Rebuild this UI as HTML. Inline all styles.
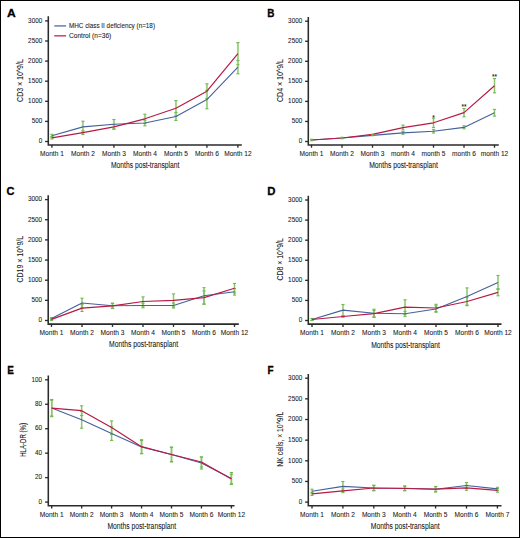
<!DOCTYPE html>
<html><head><meta charset="utf-8"><style>
html,body{margin:0;padding:0;background:#fff;}
body{width:520px;height:538px;overflow:hidden;}
svg{display:block;}
text{font-family:"Liberation Sans", sans-serif;fill:#202020;stroke:#202020;stroke-width:0.07px;}
.lt{font-size:11.6px;font-weight:bold;fill:#000;stroke:#000;stroke-width:0.3px;}
.yl{font-size:6.9px;text-anchor:end;}
.ml{font-size:6.6px;text-anchor:middle;}
.xt{font-size:8.3px;text-anchor:middle;}
.yt{font-size:8.5px;text-anchor:middle;}
.lg{font-size:6.5px;}
.as{font-size:6.5px;text-anchor:middle;fill:#111;}
.ax{fill:none;stroke:#2b2b2b;stroke-width:1.55;}
.tk{stroke:#2b2b2b;stroke-width:1.35;}
.bl{fill:none;stroke:#44619c;stroke-width:1.1;stroke-linejoin:round;}
.rl{fill:none;stroke:#b71a44;stroke-width:1.2;stroke-linejoin:round;}
.eb{}
.ec{stroke:#70b952;stroke-width:1.1;}
</style></head><body>
<svg width="520" height="538" viewBox="0 0 520 538">
<rect x="0.5" y="0.5" width="519" height="537" fill="#fff" stroke="#000" stroke-width="1"/>
<text transform="translate(6.9 16.5) scale(1.04 1)" class="lt">A</text>
<g>
<line x1="51.9" y1="134.3" x2="51.9" y2="137.1" class="eb" stroke-width="2.0" stroke="#a3d189"/>
<line x1="51.9" y1="136.7" x2="51.9" y2="138.9" class="eb" stroke-width="2.0" stroke="#a3d189"/>
<line x1="82.9" y1="121.2" x2="82.9" y2="132.6" class="eb" stroke-width="2.0" stroke="#a3d189"/>
<line x1="82.9" y1="130.9" x2="82.9" y2="134.5" class="eb" stroke-width="2.0" stroke="#a3d189"/>
<line x1="113.9" y1="119.5" x2="113.9" y2="128.9" class="eb" stroke-width="2.0" stroke="#a3d189"/>
<line x1="113.9" y1="124.6" x2="113.9" y2="129.2" class="eb" stroke-width="2.0" stroke="#a3d189"/>
<line x1="144.9" y1="114.2" x2="144.9" y2="123.4" class="eb" stroke-width="2.0" stroke="#a3d189"/>
<line x1="144.9" y1="120.2" x2="144.9" y2="125.8" class="eb" stroke-width="2.0" stroke="#a3d189"/>
<line x1="175.9" y1="100.6" x2="175.9" y2="116" class="eb" stroke-width="2.0" stroke="#a3d189"/>
<line x1="175.9" y1="112.6" x2="175.9" y2="120.4" class="eb" stroke-width="2.0" stroke="#a3d189"/>
<line x1="206.9" y1="83.8" x2="206.9" y2="98.6" class="eb" stroke-width="2.0" stroke="#a3d189"/>
<line x1="206.9" y1="90.4" x2="206.9" y2="108.8" class="eb" stroke-width="2.0" stroke="#a3d189"/>
<line x1="237.9" y1="42.6" x2="237.9" y2="64.8" class="eb" stroke-width="2.0" stroke="#a3d189"/>
<line x1="237.9" y1="60.4" x2="237.9" y2="73.8" class="eb" stroke-width="2.0" stroke="#a3d189"/>
<line x1="50.3" y1="134.3" x2="53.5" y2="134.3" class="ec"/>
<line x1="50.3" y1="137.1" x2="53.5" y2="137.1" class="ec"/>
<line x1="50.3" y1="136.7" x2="53.5" y2="136.7" class="ec"/>
<line x1="50.3" y1="138.9" x2="53.5" y2="138.9" class="ec"/>
<line x1="81.3" y1="121.2" x2="84.5" y2="121.2" class="ec"/>
<line x1="81.3" y1="132.6" x2="84.5" y2="132.6" class="ec"/>
<line x1="81.3" y1="130.9" x2="84.5" y2="130.9" class="ec"/>
<line x1="81.3" y1="134.5" x2="84.5" y2="134.5" class="ec"/>
<line x1="112.3" y1="119.5" x2="115.5" y2="119.5" class="ec"/>
<line x1="112.3" y1="128.9" x2="115.5" y2="128.9" class="ec"/>
<line x1="112.3" y1="124.6" x2="115.5" y2="124.6" class="ec"/>
<line x1="112.3" y1="129.2" x2="115.5" y2="129.2" class="ec"/>
<line x1="143.3" y1="114.2" x2="146.5" y2="114.2" class="ec"/>
<line x1="143.3" y1="123.4" x2="146.5" y2="123.4" class="ec"/>
<line x1="143.3" y1="120.2" x2="146.5" y2="120.2" class="ec"/>
<line x1="143.3" y1="125.8" x2="146.5" y2="125.8" class="ec"/>
<line x1="174.3" y1="100.6" x2="177.5" y2="100.6" class="ec"/>
<line x1="174.3" y1="116" x2="177.5" y2="116" class="ec"/>
<line x1="174.3" y1="112.6" x2="177.5" y2="112.6" class="ec"/>
<line x1="174.3" y1="120.4" x2="177.5" y2="120.4" class="ec"/>
<line x1="205.3" y1="83.8" x2="208.5" y2="83.8" class="ec"/>
<line x1="205.3" y1="98.6" x2="208.5" y2="98.6" class="ec"/>
<line x1="205.3" y1="90.4" x2="208.5" y2="90.4" class="ec"/>
<line x1="205.3" y1="108.8" x2="208.5" y2="108.8" class="ec"/>
<line x1="236.3" y1="42.6" x2="239.5" y2="42.6" class="ec"/>
<line x1="236.3" y1="64.8" x2="239.5" y2="64.8" class="ec"/>
<line x1="236.3" y1="60.4" x2="239.5" y2="60.4" class="ec"/>
<line x1="236.3" y1="73.8" x2="239.5" y2="73.8" class="ec"/>
<polyline points="51.9,135.7 82.9,126.9 113.9,124.2 144.9,123 175.9,116.5 206.9,99.6 237.9,67.1" class="bl"/>
<polyline points="51.9,137.8 82.9,132.7 113.9,126.9 144.9,118.8 175.9,108.3 206.9,91.2 237.9,53.7" class="rl"/>
</g>
<path d="M48.3 16.3V145H241.8" class="ax"/>
<line x1="45.1" y1="141.5" x2="48.3" y2="141.5" class="tk"/>
<text x="42.2" y="143.25" class="yl" textLength="3.52" lengthAdjust="spacingAndGlyphs">0</text>
<line x1="45.1" y1="121.4" x2="48.3" y2="121.4" class="tk"/>
<text x="42.2" y="123.15" class="yl" textLength="10.56" lengthAdjust="spacingAndGlyphs">500</text>
<line x1="45.1" y1="101.3" x2="48.3" y2="101.3" class="tk"/>
<text x="42.2" y="103.05" class="yl" textLength="14.08" lengthAdjust="spacingAndGlyphs">1000</text>
<line x1="45.1" y1="81.2" x2="48.3" y2="81.2" class="tk"/>
<text x="42.2" y="82.95" class="yl" textLength="14.08" lengthAdjust="spacingAndGlyphs">1500</text>
<line x1="45.1" y1="61.1" x2="48.3" y2="61.1" class="tk"/>
<text x="42.2" y="62.85" class="yl" textLength="14.08" lengthAdjust="spacingAndGlyphs">2000</text>
<line x1="45.1" y1="41" x2="48.3" y2="41" class="tk"/>
<text x="42.2" y="42.75" class="yl" textLength="14.08" lengthAdjust="spacingAndGlyphs">2500</text>
<line x1="45.1" y1="20.9" x2="48.3" y2="20.9" class="tk"/>
<text x="42.2" y="22.65" class="yl" textLength="14.08" lengthAdjust="spacingAndGlyphs">3000</text>
<line x1="51.9" y1="145" x2="51.9" y2="147.8" class="tk"/>
<text x="51.9" y="156.4" class="ml">Month 1</text>
<line x1="82.9" y1="145" x2="82.9" y2="147.8" class="tk"/>
<text x="82.9" y="156.4" class="ml">Month 2</text>
<line x1="113.9" y1="145" x2="113.9" y2="147.8" class="tk"/>
<text x="113.9" y="156.4" class="ml">Month 3</text>
<line x1="144.9" y1="145" x2="144.9" y2="147.8" class="tk"/>
<text x="144.9" y="156.4" class="ml">Month 4</text>
<line x1="175.9" y1="145" x2="175.9" y2="147.8" class="tk"/>
<text x="175.9" y="156.4" class="ml">Month 5</text>
<line x1="206.9" y1="145" x2="206.9" y2="147.8" class="tk"/>
<text x="206.9" y="156.4" class="ml">Month 6</text>
<line x1="237.9" y1="145" x2="237.9" y2="147.8" class="tk"/>
<text x="237.9" y="156.4" class="ml">Month 12</text>
<text x="145.2" y="168.3" class="xt" textLength="68.4" lengthAdjust="spacingAndGlyphs">Months post-transplant</text>
<text transform="translate(22.7 80.55) rotate(-90)" class="yt" textLength="42.7" lengthAdjust="spacingAndGlyphs">CD3 × 10^9/L</text>
<line x1="54.3" y1="25.9" x2="66.1" y2="25.9" stroke="#6f86b6" stroke-width="1.6"/>
<line x1="54.3" y1="35.8" x2="66.1" y2="35.8" stroke="#c9506b" stroke-width="1.6"/>
<text x="69" y="27.9" class="lg" textLength="86" lengthAdjust="spacingAndGlyphs">MHC class II deficiency (n=18)</text>
<text x="69" y="37.6" class="lg" textLength="42.3" lengthAdjust="spacingAndGlyphs">Control (n=36)</text>
<text transform="translate(267.2 16.5) scale(0.86 1)" class="lt">B</text>
<g>
<line x1="403" y1="125.1" x2="403" y2="129.9" class="eb" stroke-width="1.5" stroke="#8cc56c"/>
<line x1="403" y1="131.6" x2="403" y2="134.2" class="eb" stroke-width="1.5" stroke="#8cc56c"/>
<line x1="433.5" y1="118.2" x2="433.5" y2="127.6" class="eb" stroke-width="1.5" stroke="#8cc56c"/>
<line x1="433.5" y1="129.6" x2="433.5" y2="133" class="eb" stroke-width="1.5" stroke="#8cc56c"/>
<line x1="464" y1="108.5" x2="464" y2="116.8" class="eb" stroke-width="1.5" stroke="#8cc56c"/>
<line x1="464" y1="125.8" x2="464" y2="128.8" class="eb" stroke-width="1.5" stroke="#8cc56c"/>
<line x1="494.5" y1="78.5" x2="494.5" y2="92.8" class="eb" stroke-width="1.5" stroke="#8cc56c"/>
<line x1="494.5" y1="109.4" x2="494.5" y2="116.1" class="eb" stroke-width="1.5" stroke="#8cc56c"/>
<line x1="401.4" y1="125.1" x2="404.6" y2="125.1" class="ec"/>
<line x1="401.4" y1="129.9" x2="404.6" y2="129.9" class="ec"/>
<line x1="401.4" y1="131.6" x2="404.6" y2="131.6" class="ec"/>
<line x1="401.4" y1="134.2" x2="404.6" y2="134.2" class="ec"/>
<line x1="431.9" y1="118.2" x2="435.1" y2="118.2" class="ec"/>
<line x1="431.9" y1="127.6" x2="435.1" y2="127.6" class="ec"/>
<line x1="431.9" y1="129.6" x2="435.1" y2="129.6" class="ec"/>
<line x1="431.9" y1="133" x2="435.1" y2="133" class="ec"/>
<line x1="462.4" y1="108.5" x2="465.6" y2="108.5" class="ec"/>
<line x1="462.4" y1="116.8" x2="465.6" y2="116.8" class="ec"/>
<line x1="462.4" y1="125.8" x2="465.6" y2="125.8" class="ec"/>
<line x1="462.4" y1="128.8" x2="465.6" y2="128.8" class="ec"/>
<line x1="492.9" y1="78.5" x2="496.1" y2="78.5" class="ec"/>
<line x1="492.9" y1="92.8" x2="496.1" y2="92.8" class="ec"/>
<line x1="492.9" y1="109.4" x2="496.1" y2="109.4" class="ec"/>
<line x1="492.9" y1="116.1" x2="496.1" y2="116.1" class="ec"/>
<polyline points="311.5,140 342,138 372.5,135.4 403,132.9 433.5,131.3 464,127.4 494.5,112.8" class="bl"/>
<polyline points="311.5,140 342,138 372.5,134.4 403,127.6 433.5,122.8 464,112.6 494.5,85.8" class="rl"/>
<rect x="310.2" y="138.7" width="2.6" height="2.6" fill="#66b243"/>
<rect x="340.7" y="136.7" width="2.6" height="2.6" fill="#66b243"/>
<rect x="371.2" y="133.7" width="2.6" height="2.6" fill="#66b243"/>
</g>
<path d="M308.3 17.1V144.9H498.8" class="ax"/>
<line x1="305.1" y1="141.5" x2="308.3" y2="141.5" class="tk"/>
<text x="302.2" y="143.25" class="yl" textLength="3.52" lengthAdjust="spacingAndGlyphs">0</text>
<line x1="305.1" y1="121.45" x2="308.3" y2="121.45" class="tk"/>
<text x="302.2" y="123.2" class="yl" textLength="10.56" lengthAdjust="spacingAndGlyphs">500</text>
<line x1="305.1" y1="101.4" x2="308.3" y2="101.4" class="tk"/>
<text x="302.2" y="103.15" class="yl" textLength="14.08" lengthAdjust="spacingAndGlyphs">1000</text>
<line x1="305.1" y1="81.35" x2="308.3" y2="81.35" class="tk"/>
<text x="302.2" y="83.1" class="yl" textLength="14.08" lengthAdjust="spacingAndGlyphs">1500</text>
<line x1="305.1" y1="61.3" x2="308.3" y2="61.3" class="tk"/>
<text x="302.2" y="63.05" class="yl" textLength="14.08" lengthAdjust="spacingAndGlyphs">2000</text>
<line x1="305.1" y1="41.25" x2="308.3" y2="41.25" class="tk"/>
<text x="302.2" y="43" class="yl" textLength="14.08" lengthAdjust="spacingAndGlyphs">2500</text>
<line x1="305.1" y1="21.2" x2="308.3" y2="21.2" class="tk"/>
<text x="302.2" y="22.95" class="yl" textLength="14.08" lengthAdjust="spacingAndGlyphs">3000</text>
<line x1="311.5" y1="144.9" x2="311.5" y2="147.7" class="tk"/>
<text x="311.5" y="156.2" class="ml">Month 1</text>
<line x1="342" y1="144.9" x2="342" y2="147.7" class="tk"/>
<text x="342" y="156.2" class="ml">Month 2</text>
<line x1="372.5" y1="144.9" x2="372.5" y2="147.7" class="tk"/>
<text x="372.5" y="156.2" class="ml">Month 3</text>
<line x1="403" y1="144.9" x2="403" y2="147.7" class="tk"/>
<text x="403" y="156.2" class="ml">month 4</text>
<line x1="433.5" y1="144.9" x2="433.5" y2="147.7" class="tk"/>
<text x="433.5" y="156.2" class="ml">month 5</text>
<line x1="464" y1="144.9" x2="464" y2="147.7" class="tk"/>
<text x="464" y="156.2" class="ml">month 6</text>
<line x1="494.5" y1="144.9" x2="494.5" y2="147.7" class="tk"/>
<text x="494.5" y="156.2" class="ml">month 12</text>
<text x="403.55" y="168.3" class="xt" textLength="68.7" lengthAdjust="spacingAndGlyphs">Months post-transplant</text>
<text transform="translate(282.7 80.55) rotate(-90)" class="yt" textLength="42.9" lengthAdjust="spacingAndGlyphs">CD4 × 10^9/L</text>
<text x="433.5" y="119.5" class="as">*</text>
<text x="464" y="109.1" class="as">**</text>
<text x="494.5" y="79.1" class="as">**</text>
<text transform="translate(6.6 194.9) scale(0.95 1)" class="lt">C</text>
<g>
<line x1="51.5" y1="317.7" x2="51.5" y2="319.3" class="eb" stroke-width="1.5" stroke="#8cc56c"/>
<line x1="51.5" y1="318.3" x2="51.5" y2="320.5" class="eb" stroke-width="1.5" stroke="#8cc56c"/>
<line x1="82" y1="298.2" x2="82" y2="307.8" class="eb" stroke-width="1.5" stroke="#8cc56c"/>
<line x1="82" y1="304.7" x2="82" y2="311.5" class="eb" stroke-width="1.5" stroke="#8cc56c"/>
<line x1="112.5" y1="303.5" x2="112.5" y2="308.1" class="eb" stroke-width="1.5" stroke="#8cc56c"/>
<line x1="112.5" y1="303.1" x2="112.5" y2="308.5" class="eb" stroke-width="1.5" stroke="#8cc56c"/>
<line x1="143" y1="296.9" x2="143" y2="306.1" class="eb" stroke-width="1.5" stroke="#8cc56c"/>
<line x1="143" y1="303.2" x2="143" y2="307.8" class="eb" stroke-width="1.5" stroke="#8cc56c"/>
<line x1="173.5" y1="293.9" x2="173.5" y2="306.9" class="eb" stroke-width="1.5" stroke="#8cc56c"/>
<line x1="173.5" y1="303" x2="173.5" y2="308" class="eb" stroke-width="1.5" stroke="#8cc56c"/>
<line x1="204" y1="287.7" x2="204" y2="303.9" class="eb" stroke-width="1.5" stroke="#8cc56c"/>
<line x1="204" y1="290.9" x2="204" y2="304.3" class="eb" stroke-width="1.5" stroke="#8cc56c"/>
<line x1="234.5" y1="283.5" x2="234.5" y2="292.9" class="eb" stroke-width="1.5" stroke="#8cc56c"/>
<line x1="234.5" y1="288.5" x2="234.5" y2="295.1" class="eb" stroke-width="1.5" stroke="#8cc56c"/>
<line x1="49.9" y1="317.7" x2="53.1" y2="317.7" class="ec"/>
<line x1="49.9" y1="319.3" x2="53.1" y2="319.3" class="ec"/>
<line x1="49.9" y1="318.3" x2="53.1" y2="318.3" class="ec"/>
<line x1="49.9" y1="320.5" x2="53.1" y2="320.5" class="ec"/>
<line x1="80.4" y1="298.2" x2="83.6" y2="298.2" class="ec"/>
<line x1="80.4" y1="307.8" x2="83.6" y2="307.8" class="ec"/>
<line x1="80.4" y1="304.7" x2="83.6" y2="304.7" class="ec"/>
<line x1="80.4" y1="311.5" x2="83.6" y2="311.5" class="ec"/>
<line x1="110.9" y1="303.5" x2="114.1" y2="303.5" class="ec"/>
<line x1="110.9" y1="308.1" x2="114.1" y2="308.1" class="ec"/>
<line x1="110.9" y1="303.1" x2="114.1" y2="303.1" class="ec"/>
<line x1="110.9" y1="308.5" x2="114.1" y2="308.5" class="ec"/>
<line x1="141.4" y1="296.9" x2="144.6" y2="296.9" class="ec"/>
<line x1="141.4" y1="306.1" x2="144.6" y2="306.1" class="ec"/>
<line x1="141.4" y1="303.2" x2="144.6" y2="303.2" class="ec"/>
<line x1="141.4" y1="307.8" x2="144.6" y2="307.8" class="ec"/>
<line x1="171.9" y1="293.9" x2="175.1" y2="293.9" class="ec"/>
<line x1="171.9" y1="306.9" x2="175.1" y2="306.9" class="ec"/>
<line x1="171.9" y1="303" x2="175.1" y2="303" class="ec"/>
<line x1="171.9" y1="308" x2="175.1" y2="308" class="ec"/>
<line x1="202.4" y1="287.7" x2="205.6" y2="287.7" class="ec"/>
<line x1="202.4" y1="303.9" x2="205.6" y2="303.9" class="ec"/>
<line x1="202.4" y1="290.9" x2="205.6" y2="290.9" class="ec"/>
<line x1="202.4" y1="304.3" x2="205.6" y2="304.3" class="ec"/>
<line x1="232.9" y1="283.5" x2="236.1" y2="283.5" class="ec"/>
<line x1="232.9" y1="292.9" x2="236.1" y2="292.9" class="ec"/>
<line x1="232.9" y1="288.5" x2="236.1" y2="288.5" class="ec"/>
<line x1="232.9" y1="295.1" x2="236.1" y2="295.1" class="ec"/>
<polyline points="51.5,318.5 82,303 112.5,305.8 143,305.5 173.5,305.5 204,295.8 234.5,291.8" class="bl"/>
<polyline points="51.5,319.4 82,308.1 112.5,305.8 143,301.5 173.5,300.4 204,297.6 234.5,288.2" class="rl"/>
</g>
<path d="M48.2 195.2V324.1H238.8" class="ax"/>
<line x1="45" y1="320.5" x2="48.2" y2="320.5" class="tk"/>
<text x="42" y="322.25" class="yl" textLength="3.52" lengthAdjust="spacingAndGlyphs">0</text>
<line x1="45" y1="300.35" x2="48.2" y2="300.35" class="tk"/>
<text x="42" y="302.1" class="yl" textLength="10.56" lengthAdjust="spacingAndGlyphs">500</text>
<line x1="45" y1="280.2" x2="48.2" y2="280.2" class="tk"/>
<text x="42" y="281.95" class="yl" textLength="14.08" lengthAdjust="spacingAndGlyphs">1000</text>
<line x1="45" y1="260.05" x2="48.2" y2="260.05" class="tk"/>
<text x="42" y="261.8" class="yl" textLength="14.08" lengthAdjust="spacingAndGlyphs">1500</text>
<line x1="45" y1="239.9" x2="48.2" y2="239.9" class="tk"/>
<text x="42" y="241.65" class="yl" textLength="14.08" lengthAdjust="spacingAndGlyphs">2000</text>
<line x1="45" y1="219.75" x2="48.2" y2="219.75" class="tk"/>
<text x="42" y="221.5" class="yl" textLength="14.08" lengthAdjust="spacingAndGlyphs">2500</text>
<line x1="45" y1="199.6" x2="48.2" y2="199.6" class="tk"/>
<text x="42" y="201.35" class="yl" textLength="14.08" lengthAdjust="spacingAndGlyphs">3000</text>
<line x1="51.5" y1="324.1" x2="51.5" y2="326.9" class="tk"/>
<text x="51.5" y="335.3" class="ml">Month 1</text>
<line x1="82" y1="324.1" x2="82" y2="326.9" class="tk"/>
<text x="82" y="335.3" class="ml">Month 2</text>
<line x1="112.5" y1="324.1" x2="112.5" y2="326.9" class="tk"/>
<text x="112.5" y="335.3" class="ml">Month 3</text>
<line x1="143" y1="324.1" x2="143" y2="326.9" class="tk"/>
<text x="143" y="335.3" class="ml">Month 4</text>
<line x1="173.5" y1="324.1" x2="173.5" y2="326.9" class="tk"/>
<text x="173.5" y="335.3" class="ml">Month 5</text>
<line x1="204" y1="324.1" x2="204" y2="326.9" class="tk"/>
<text x="204" y="335.3" class="ml">Month 6</text>
<line x1="234.5" y1="324.1" x2="234.5" y2="326.9" class="tk"/>
<text x="234.5" y="335.3" class="ml">Month 12</text>
<text x="143.6" y="347.4" class="xt" textLength="69" lengthAdjust="spacingAndGlyphs">Months post-transplant</text>
<text transform="translate(23 259.2) rotate(-90)" class="yt" textLength="46.6" lengthAdjust="spacingAndGlyphs">CD19 × 10^9/L</text>
<text transform="translate(267.2 194.9) scale(0.98 1)" class="lt">D</text>
<g>
<line x1="312" y1="318.5" x2="312" y2="320.5" class="eb" stroke-width="1.5" stroke="#8cc56c"/>
<line x1="312" y1="318.5" x2="312" y2="320.5" class="eb" stroke-width="1.5" stroke="#8cc56c"/>
<line x1="343" y1="304.5" x2="343" y2="315.7" class="eb" stroke-width="1.5" stroke="#8cc56c"/>
<line x1="343" y1="315.7" x2="343" y2="317.3" class="eb" stroke-width="1.5" stroke="#8cc56c"/>
<line x1="374" y1="309.2" x2="374" y2="317.4" class="eb" stroke-width="1.5" stroke="#8cc56c"/>
<line x1="374" y1="310.4" x2="374" y2="316.8" class="eb" stroke-width="1.5" stroke="#8cc56c"/>
<line x1="405" y1="299.8" x2="405" y2="314.4" class="eb" stroke-width="1.5" stroke="#8cc56c"/>
<line x1="405" y1="311.3" x2="405" y2="316.3" class="eb" stroke-width="1.5" stroke="#8cc56c"/>
<line x1="436" y1="304.3" x2="436" y2="311.7" class="eb" stroke-width="1.5" stroke="#8cc56c"/>
<line x1="436" y1="305.8" x2="436" y2="312.2" class="eb" stroke-width="1.5" stroke="#8cc56c"/>
<line x1="467" y1="287.9" x2="467" y2="305.1" class="eb" stroke-width="1.5" stroke="#8cc56c"/>
<line x1="467" y1="297.3" x2="467" y2="305.7" class="eb" stroke-width="1.5" stroke="#8cc56c"/>
<line x1="498" y1="275.5" x2="498" y2="289.3" class="eb" stroke-width="1.5" stroke="#8cc56c"/>
<line x1="498" y1="288.8" x2="498" y2="295.8" class="eb" stroke-width="1.5" stroke="#8cc56c"/>
<line x1="310.4" y1="318.5" x2="313.6" y2="318.5" class="ec"/>
<line x1="310.4" y1="320.5" x2="313.6" y2="320.5" class="ec"/>
<line x1="310.4" y1="318.5" x2="313.6" y2="318.5" class="ec"/>
<line x1="310.4" y1="320.5" x2="313.6" y2="320.5" class="ec"/>
<line x1="341.4" y1="304.5" x2="344.6" y2="304.5" class="ec"/>
<line x1="341.4" y1="315.7" x2="344.6" y2="315.7" class="ec"/>
<line x1="341.4" y1="315.7" x2="344.6" y2="315.7" class="ec"/>
<line x1="341.4" y1="317.3" x2="344.6" y2="317.3" class="ec"/>
<line x1="372.4" y1="309.2" x2="375.6" y2="309.2" class="ec"/>
<line x1="372.4" y1="317.4" x2="375.6" y2="317.4" class="ec"/>
<line x1="372.4" y1="310.4" x2="375.6" y2="310.4" class="ec"/>
<line x1="372.4" y1="316.8" x2="375.6" y2="316.8" class="ec"/>
<line x1="403.4" y1="299.8" x2="406.6" y2="299.8" class="ec"/>
<line x1="403.4" y1="314.4" x2="406.6" y2="314.4" class="ec"/>
<line x1="403.4" y1="311.3" x2="406.6" y2="311.3" class="ec"/>
<line x1="403.4" y1="316.3" x2="406.6" y2="316.3" class="ec"/>
<line x1="434.4" y1="304.3" x2="437.6" y2="304.3" class="ec"/>
<line x1="434.4" y1="311.7" x2="437.6" y2="311.7" class="ec"/>
<line x1="434.4" y1="305.8" x2="437.6" y2="305.8" class="ec"/>
<line x1="434.4" y1="312.2" x2="437.6" y2="312.2" class="ec"/>
<line x1="465.4" y1="287.9" x2="468.6" y2="287.9" class="ec"/>
<line x1="465.4" y1="305.1" x2="468.6" y2="305.1" class="ec"/>
<line x1="465.4" y1="297.3" x2="468.6" y2="297.3" class="ec"/>
<line x1="465.4" y1="305.7" x2="468.6" y2="305.7" class="ec"/>
<line x1="496.4" y1="275.5" x2="499.6" y2="275.5" class="ec"/>
<line x1="496.4" y1="289.3" x2="499.6" y2="289.3" class="ec"/>
<line x1="496.4" y1="288.8" x2="499.6" y2="288.8" class="ec"/>
<line x1="496.4" y1="295.8" x2="499.6" y2="295.8" class="ec"/>
<polyline points="312,319.5 343,310.1 374,313.3 405,313.8 436,309 467,296.5 498,282.4" class="bl"/>
<polyline points="312,319.5 343,316.5 374,313.6 405,307.1 436,308 467,301.5 498,292.3" class="rl"/>
</g>
<path d="M308.3 195.8V324.1H501.5" class="ax"/>
<line x1="305.1" y1="320.5" x2="308.3" y2="320.5" class="tk"/>
<text x="302.2" y="322.25" class="yl" textLength="3.52" lengthAdjust="spacingAndGlyphs">0</text>
<line x1="305.1" y1="300.42" x2="308.3" y2="300.42" class="tk"/>
<text x="302.2" y="302.17" class="yl" textLength="10.56" lengthAdjust="spacingAndGlyphs">500</text>
<line x1="305.1" y1="280.34" x2="308.3" y2="280.34" class="tk"/>
<text x="302.2" y="282.09" class="yl" textLength="14.08" lengthAdjust="spacingAndGlyphs">1000</text>
<line x1="305.1" y1="260.26" x2="308.3" y2="260.26" class="tk"/>
<text x="302.2" y="262.01" class="yl" textLength="14.08" lengthAdjust="spacingAndGlyphs">1500</text>
<line x1="305.1" y1="240.18" x2="308.3" y2="240.18" class="tk"/>
<text x="302.2" y="241.93" class="yl" textLength="14.08" lengthAdjust="spacingAndGlyphs">2000</text>
<line x1="305.1" y1="220.1" x2="308.3" y2="220.1" class="tk"/>
<text x="302.2" y="221.85" class="yl" textLength="14.08" lengthAdjust="spacingAndGlyphs">2500</text>
<line x1="305.1" y1="200.02" x2="308.3" y2="200.02" class="tk"/>
<text x="302.2" y="201.77" class="yl" textLength="14.08" lengthAdjust="spacingAndGlyphs">3000</text>
<line x1="312" y1="324.1" x2="312" y2="326.9" class="tk"/>
<text x="312" y="335.3" class="ml">Month 1</text>
<line x1="343" y1="324.1" x2="343" y2="326.9" class="tk"/>
<text x="343" y="335.3" class="ml">Month 2</text>
<line x1="374" y1="324.1" x2="374" y2="326.9" class="tk"/>
<text x="374" y="335.3" class="ml">Month 3</text>
<line x1="405" y1="324.1" x2="405" y2="326.9" class="tk"/>
<text x="405" y="335.3" class="ml">Month 4</text>
<line x1="436" y1="324.1" x2="436" y2="326.9" class="tk"/>
<text x="436" y="335.3" class="ml">Month 5</text>
<line x1="467" y1="324.1" x2="467" y2="326.9" class="tk"/>
<text x="467" y="335.3" class="ml">Month 6</text>
<line x1="498" y1="324.1" x2="498" y2="326.9" class="tk"/>
<text x="498" y="335.3" class="ml">Month 12</text>
<text x="405.6" y="347.6" class="xt" textLength="68.8" lengthAdjust="spacingAndGlyphs">Months post-transplant</text>
<text transform="translate(282.7 259.35) rotate(-90)" class="yt" textLength="42.3" lengthAdjust="spacingAndGlyphs">CD8 × 10^9/L</text>
<text transform="translate(7.3 374.3) scale(0.86 1)" class="lt">E</text>
<g>
<line x1="51.7" y1="399.5" x2="51.7" y2="416.7" class="eb" stroke-width="1.5" stroke="#8cc56c"/>
<line x1="51.7" y1="400.2" x2="51.7" y2="416" class="eb" stroke-width="1.5" stroke="#8cc56c"/>
<line x1="81.65" y1="405.8" x2="81.65" y2="415.6" class="eb" stroke-width="1.5" stroke="#8cc56c"/>
<line x1="81.65" y1="411.4" x2="81.65" y2="428.2" class="eb" stroke-width="1.5" stroke="#8cc56c"/>
<line x1="111.6" y1="420.9" x2="111.6" y2="434.3" class="eb" stroke-width="1.5" stroke="#8cc56c"/>
<line x1="111.6" y1="426.8" x2="111.6" y2="440.4" class="eb" stroke-width="1.5" stroke="#8cc56c"/>
<line x1="141.55" y1="439.7" x2="141.55" y2="453.7" class="eb" stroke-width="1.5" stroke="#8cc56c"/>
<line x1="141.55" y1="440.5" x2="141.55" y2="453.5" class="eb" stroke-width="1.5" stroke="#8cc56c"/>
<line x1="171.5" y1="447.5" x2="171.5" y2="461.5" class="eb" stroke-width="1.5" stroke="#8cc56c"/>
<line x1="171.5" y1="447" x2="171.5" y2="462" class="eb" stroke-width="1.5" stroke="#8cc56c"/>
<line x1="201.45" y1="457" x2="201.45" y2="467" class="eb" stroke-width="1.5" stroke="#8cc56c"/>
<line x1="201.45" y1="457" x2="201.45" y2="469" class="eb" stroke-width="1.5" stroke="#8cc56c"/>
<line x1="231.4" y1="472.5" x2="231.4" y2="484.5" class="eb" stroke-width="1.5" stroke="#8cc56c"/>
<line x1="231.4" y1="474.25" x2="231.4" y2="483.75" class="eb" stroke-width="1.5" stroke="#8cc56c"/>
<line x1="50.1" y1="399.5" x2="53.3" y2="399.5" class="ec"/>
<line x1="50.1" y1="416.7" x2="53.3" y2="416.7" class="ec"/>
<line x1="50.1" y1="400.2" x2="53.3" y2="400.2" class="ec"/>
<line x1="50.1" y1="416" x2="53.3" y2="416" class="ec"/>
<line x1="80.05" y1="405.8" x2="83.25" y2="405.8" class="ec"/>
<line x1="80.05" y1="415.6" x2="83.25" y2="415.6" class="ec"/>
<line x1="80.05" y1="411.4" x2="83.25" y2="411.4" class="ec"/>
<line x1="80.05" y1="428.2" x2="83.25" y2="428.2" class="ec"/>
<line x1="110" y1="420.9" x2="113.2" y2="420.9" class="ec"/>
<line x1="110" y1="434.3" x2="113.2" y2="434.3" class="ec"/>
<line x1="110" y1="426.8" x2="113.2" y2="426.8" class="ec"/>
<line x1="110" y1="440.4" x2="113.2" y2="440.4" class="ec"/>
<line x1="139.95" y1="439.7" x2="143.15" y2="439.7" class="ec"/>
<line x1="139.95" y1="453.7" x2="143.15" y2="453.7" class="ec"/>
<line x1="139.95" y1="440.5" x2="143.15" y2="440.5" class="ec"/>
<line x1="139.95" y1="453.5" x2="143.15" y2="453.5" class="ec"/>
<line x1="169.9" y1="447.5" x2="173.1" y2="447.5" class="ec"/>
<line x1="169.9" y1="461.5" x2="173.1" y2="461.5" class="ec"/>
<line x1="169.9" y1="447" x2="173.1" y2="447" class="ec"/>
<line x1="169.9" y1="462" x2="173.1" y2="462" class="ec"/>
<line x1="199.85" y1="457" x2="203.05" y2="457" class="ec"/>
<line x1="199.85" y1="467" x2="203.05" y2="467" class="ec"/>
<line x1="199.85" y1="457" x2="203.05" y2="457" class="ec"/>
<line x1="199.85" y1="469" x2="203.05" y2="469" class="ec"/>
<line x1="229.8" y1="472.5" x2="233" y2="472.5" class="ec"/>
<line x1="229.8" y1="484.5" x2="233" y2="484.5" class="ec"/>
<line x1="229.8" y1="474.25" x2="233" y2="474.25" class="ec"/>
<line x1="229.8" y1="483.75" x2="233" y2="483.75" class="ec"/>
<polyline points="51.7,408.1 81.65,419.8 111.6,433.6 141.55,447 171.5,454.5 201.45,463 231.4,478.5" class="bl"/>
<polyline points="51.7,408.1 81.65,410.7 111.6,427.6 141.55,446.7 171.5,454.5 201.45,462 231.4,479" class="rl"/>
</g>
<path d="M48.3 375.4V505.7H234.5" class="ax"/>
<line x1="45.1" y1="502.1" x2="48.3" y2="502.1" class="tk"/>
<text x="42" y="503.85" class="yl" textLength="3.52" lengthAdjust="spacingAndGlyphs">0</text>
<line x1="45.1" y1="477.64" x2="48.3" y2="477.64" class="tk"/>
<text x="42" y="479.39" class="yl" textLength="7.04" lengthAdjust="spacingAndGlyphs">20</text>
<line x1="45.1" y1="453.18" x2="48.3" y2="453.18" class="tk"/>
<text x="42" y="454.93" class="yl" textLength="7.04" lengthAdjust="spacingAndGlyphs">40</text>
<line x1="45.1" y1="428.72" x2="48.3" y2="428.72" class="tk"/>
<text x="42" y="430.47" class="yl" textLength="7.04" lengthAdjust="spacingAndGlyphs">60</text>
<line x1="45.1" y1="404.26" x2="48.3" y2="404.26" class="tk"/>
<text x="42" y="406.01" class="yl" textLength="7.04" lengthAdjust="spacingAndGlyphs">80</text>
<line x1="45.1" y1="379.8" x2="48.3" y2="379.8" class="tk"/>
<text x="42" y="381.55" class="yl" textLength="10.56" lengthAdjust="spacingAndGlyphs">100</text>
<line x1="51.7" y1="505.7" x2="51.7" y2="508.5" class="tk"/>
<text x="51.7" y="516.9" class="ml">Month 1</text>
<line x1="81.65" y1="505.7" x2="81.65" y2="508.5" class="tk"/>
<text x="81.65" y="516.9" class="ml">Month 2</text>
<line x1="111.6" y1="505.7" x2="111.6" y2="508.5" class="tk"/>
<text x="111.6" y="516.9" class="ml">Month 3</text>
<line x1="141.55" y1="505.7" x2="141.55" y2="508.5" class="tk"/>
<text x="141.55" y="516.9" class="ml">Month 4</text>
<line x1="171.5" y1="505.7" x2="171.5" y2="508.5" class="tk"/>
<text x="171.5" y="516.9" class="ml">Month 5</text>
<line x1="201.45" y1="505.7" x2="201.45" y2="508.5" class="tk"/>
<text x="201.45" y="516.9" class="ml">Month 6</text>
<line x1="231.4" y1="505.7" x2="231.4" y2="508.5" class="tk"/>
<text x="231.4" y="516.9" class="ml">Month 12</text>
<text x="141.8" y="529.1" class="xt" textLength="68.8" lengthAdjust="spacingAndGlyphs">Months post-transplant</text>
<text transform="translate(26.4 439.9) rotate(-90)" class="yt" textLength="33.8" lengthAdjust="spacingAndGlyphs">HLA-DR (%)</text>
<text transform="translate(267.4 373.8) scale(0.86 1)" class="lt">F</text>
<g>
<line x1="312" y1="489.2" x2="312" y2="493.2" class="eb" stroke-width="1.5" stroke="#8cc56c"/>
<line x1="312" y1="492.2" x2="312" y2="495.4" class="eb" stroke-width="1.5" stroke="#8cc56c"/>
<line x1="342.9" y1="481.5" x2="342.9" y2="491.3" class="eb" stroke-width="1.5" stroke="#8cc56c"/>
<line x1="342.9" y1="489" x2="342.9" y2="492.6" class="eb" stroke-width="1.5" stroke="#8cc56c"/>
<line x1="373.8" y1="485.5" x2="373.8" y2="490.5" class="eb" stroke-width="1.5" stroke="#8cc56c"/>
<line x1="373.8" y1="485.2" x2="373.8" y2="490.8" class="eb" stroke-width="1.5" stroke="#8cc56c"/>
<line x1="404.7" y1="485.9" x2="404.7" y2="490.5" class="eb" stroke-width="1.5" stroke="#8cc56c"/>
<line x1="404.7" y1="486.2" x2="404.7" y2="490.8" class="eb" stroke-width="1.5" stroke="#8cc56c"/>
<line x1="435.6" y1="486.6" x2="435.6" y2="491.8" class="eb" stroke-width="1.5" stroke="#8cc56c"/>
<line x1="435.6" y1="486.5" x2="435.6" y2="491.9" class="eb" stroke-width="1.5" stroke="#8cc56c"/>
<line x1="466.5" y1="482.5" x2="466.5" y2="488.5" class="eb" stroke-width="1.5" stroke="#8cc56c"/>
<line x1="466.5" y1="485.3" x2="466.5" y2="490.3" class="eb" stroke-width="1.5" stroke="#8cc56c"/>
<line x1="497.4" y1="487.3" x2="497.4" y2="490.5" class="eb" stroke-width="1.5" stroke="#8cc56c"/>
<line x1="497.4" y1="488.4" x2="497.4" y2="492.2" class="eb" stroke-width="1.5" stroke="#8cc56c"/>
<line x1="310.4" y1="489.2" x2="313.6" y2="489.2" class="ec"/>
<line x1="310.4" y1="493.2" x2="313.6" y2="493.2" class="ec"/>
<line x1="310.4" y1="492.2" x2="313.6" y2="492.2" class="ec"/>
<line x1="310.4" y1="495.4" x2="313.6" y2="495.4" class="ec"/>
<line x1="341.3" y1="481.5" x2="344.5" y2="481.5" class="ec"/>
<line x1="341.3" y1="491.3" x2="344.5" y2="491.3" class="ec"/>
<line x1="341.3" y1="489" x2="344.5" y2="489" class="ec"/>
<line x1="341.3" y1="492.6" x2="344.5" y2="492.6" class="ec"/>
<line x1="372.2" y1="485.5" x2="375.4" y2="485.5" class="ec"/>
<line x1="372.2" y1="490.5" x2="375.4" y2="490.5" class="ec"/>
<line x1="372.2" y1="485.2" x2="375.4" y2="485.2" class="ec"/>
<line x1="372.2" y1="490.8" x2="375.4" y2="490.8" class="ec"/>
<line x1="403.1" y1="485.9" x2="406.3" y2="485.9" class="ec"/>
<line x1="403.1" y1="490.5" x2="406.3" y2="490.5" class="ec"/>
<line x1="403.1" y1="486.2" x2="406.3" y2="486.2" class="ec"/>
<line x1="403.1" y1="490.8" x2="406.3" y2="490.8" class="ec"/>
<line x1="434" y1="486.6" x2="437.2" y2="486.6" class="ec"/>
<line x1="434" y1="491.8" x2="437.2" y2="491.8" class="ec"/>
<line x1="434" y1="486.5" x2="437.2" y2="486.5" class="ec"/>
<line x1="434" y1="491.9" x2="437.2" y2="491.9" class="ec"/>
<line x1="464.9" y1="482.5" x2="468.1" y2="482.5" class="ec"/>
<line x1="464.9" y1="488.5" x2="468.1" y2="488.5" class="ec"/>
<line x1="464.9" y1="485.3" x2="468.1" y2="485.3" class="ec"/>
<line x1="464.9" y1="490.3" x2="468.1" y2="490.3" class="ec"/>
<line x1="495.8" y1="487.3" x2="499" y2="487.3" class="ec"/>
<line x1="495.8" y1="490.5" x2="499" y2="490.5" class="ec"/>
<line x1="495.8" y1="488.4" x2="499" y2="488.4" class="ec"/>
<line x1="495.8" y1="492.2" x2="499" y2="492.2" class="ec"/>
<polyline points="312,491.2 342.9,486.4 373.8,488 404.7,488.2 435.6,489.2 466.5,485.5 497.4,488.9" class="bl"/>
<polyline points="312,493.8 342.9,490.8 373.8,488 404.7,488.5 435.6,489.2 466.5,487.8 497.4,490.3" class="rl"/>
</g>
<path d="M308.3 374V505.7H501.5" class="ax"/>
<line x1="305.1" y1="502.1" x2="308.3" y2="502.1" class="tk"/>
<text x="302.2" y="503.85" class="yl" textLength="3.52" lengthAdjust="spacingAndGlyphs">0</text>
<line x1="305.1" y1="481.45" x2="308.3" y2="481.45" class="tk"/>
<text x="302.2" y="483.2" class="yl" textLength="10.56" lengthAdjust="spacingAndGlyphs">500</text>
<line x1="305.1" y1="460.8" x2="308.3" y2="460.8" class="tk"/>
<text x="302.2" y="462.55" class="yl" textLength="14.08" lengthAdjust="spacingAndGlyphs">1000</text>
<line x1="305.1" y1="440.15" x2="308.3" y2="440.15" class="tk"/>
<text x="302.2" y="441.9" class="yl" textLength="14.08" lengthAdjust="spacingAndGlyphs">1500</text>
<line x1="305.1" y1="419.5" x2="308.3" y2="419.5" class="tk"/>
<text x="302.2" y="421.25" class="yl" textLength="14.08" lengthAdjust="spacingAndGlyphs">2000</text>
<line x1="305.1" y1="398.85" x2="308.3" y2="398.85" class="tk"/>
<text x="302.2" y="400.6" class="yl" textLength="14.08" lengthAdjust="spacingAndGlyphs">2500</text>
<line x1="305.1" y1="378.2" x2="308.3" y2="378.2" class="tk"/>
<text x="302.2" y="379.95" class="yl" textLength="14.08" lengthAdjust="spacingAndGlyphs">3000</text>
<line x1="312" y1="505.7" x2="312" y2="508.5" class="tk"/>
<text x="312" y="517" class="ml">Month 1</text>
<line x1="342.9" y1="505.7" x2="342.9" y2="508.5" class="tk"/>
<text x="342.9" y="517" class="ml">Month 2</text>
<line x1="373.8" y1="505.7" x2="373.8" y2="508.5" class="tk"/>
<text x="373.8" y="517" class="ml">Month 3</text>
<line x1="404.7" y1="505.7" x2="404.7" y2="508.5" class="tk"/>
<text x="404.7" y="517" class="ml">Month 4</text>
<line x1="435.6" y1="505.7" x2="435.6" y2="508.5" class="tk"/>
<text x="435.6" y="517" class="ml">Month 5</text>
<line x1="466.5" y1="505.7" x2="466.5" y2="508.5" class="tk"/>
<text x="466.5" y="517" class="ml">Month 6</text>
<line x1="497.4" y1="505.7" x2="497.4" y2="508.5" class="tk"/>
<text x="497.4" y="517" class="ml">Month 7</text>
<text x="405.2" y="529.1" class="xt" textLength="68.9" lengthAdjust="spacingAndGlyphs">Months post-transplant</text>
<text transform="translate(283.2 439.15) rotate(-90)" class="yt" textLength="55" lengthAdjust="spacingAndGlyphs">NK cells, × 10^9/L</text>
</svg>
</body></html>
